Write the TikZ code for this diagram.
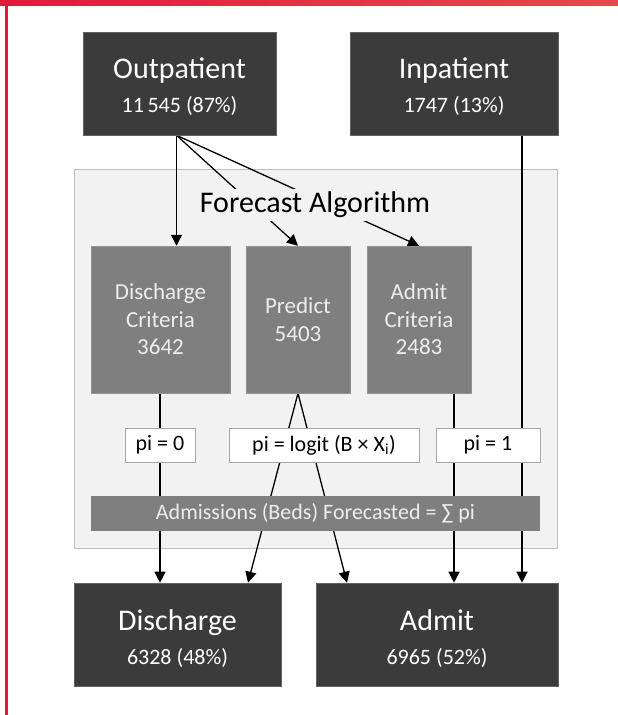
\documentclass[tikz,border=0pt]{standalone}
\usepackage{fontspec}
\setmainfont{Carlito}
\usetikzlibrary{arrows.meta}
\definecolor{darkbox}{HTML}{3B3B3B}
\definecolor{midbox}{HTML}{7F7F7F}
\definecolor{panelfill}{HTML}{F2F2F2}
\definecolor{paneldraw}{HTML}{BFBFBF}
\definecolor{whitedraw}{HTML}{A6A6A6}
\definecolor{lighttext}{HTML}{EDEDED}
\definecolor{redL}{HTML}{E01A3A}
\definecolor{redR}{HTML}{E8474F}
\pgfdeclarelayer{bg}
\pgfdeclarelayer{lines}
\pgfsetlayers{bg,lines,main}
\tikzset{
  darkrect/.style={fill=darkbox, draw=darkbox!80!white, line width=0.6pt, minimum width=#1, minimum height=103pt, inner sep=0pt},
  midrect/.style={fill=midbox, draw=midbox!85!white, line width=0.5pt, minimum width=#1, minimum height=147pt, inner sep=0pt,
     text=lighttext, align=center, font=\fontsize{23}{27.5}\selectfont},
  pibox/.style={fill=white, draw=whitedraw, line width=0.6pt, minimum width=#1, minimum height=34pt, inner sep=0pt,
     font=\fontsize{22}{26}\selectfont},
  bigtitle/.style={text=white, font=\fontsize{30}{34}\selectfont, inner sep=0pt, anchor=base},
  bignum/.style={text=white, font=\fontsize{22}{26}\selectfont, inner sep=0pt, anchor=base},
  conn/.style={line width=1.3pt, -{Triangle[width=11pt,length=11pt]}}
}
\begin{document}
\begin{tikzpicture}[x=1pt,y=-1pt]
\useasboundingbox (0,0) rectangle (618,715);
\begin{pgfonlayer}{bg}
\fill[white] (0,0) rectangle (618,715);
\end{pgfonlayer}
% red frame
\shade[left color=redL, right color=redR] (0,0) rectangle (618,5.5);
\fill[redL] (5,0) rectangle (8,715);

% top boxes
\node[darkrect=193pt] (out) at (179.5,83.5) {};
\node[bigtitle] (outT) at (179.5,78) {Outpatient};
\node[bignum] (outN) at (179.5,112) {11\,545 (87\%)};
\node[darkrect=208pt] (inp) at (454,83.5) {};
\node[bigtitle] (inpT) at (454,78) {Inpatient};
\node[bignum] (inpN) at (454,112) {1747 (13\%)};

% panel
\begin{pgfonlayer}{bg}
\node[fill=panelfill, draw=paneldraw, line width=0.8pt, minimum width=483pt, minimum height=379pt, inner sep=0pt] (panel) at (315.5,358.5) {};
\end{pgfonlayer}

% criteria boxes
\node[midrect=139pt] (dc) at (160.5,319.5) {Discharge\\Criteria\\3642};
\node[midrect=104pt] (pr) at (298,319.5) {Predict\\5403};
\node[midrect=104pt] (ac) at (419,319.5) {Admit\\Criteria\\2483};

% pi boxes
\node[pibox=70pt] (p0) at (160,445) {pi = 0};
\node[pibox=190pt] (pl) at (324,445) {pi = logit (B × X\textsubscript{i})};
\node[pibox=104pt] (p1) at (488,445) {pi = 1};

% bar
\node[fill=midbox, minimum width=449pt, minimum height=35pt, inner sep=0pt, text=lighttext,
      font=\fontsize{22}{26}\selectfont] (bar) at (315.5,513.5) {Admissions (Beds) Forecasted = ∑ pi};

% bottom boxes
\node[darkrect=207pt] (dis) at (177.5,634.5) {};
\node[bigtitle] (disT) at (177.5,630) {Discharge};
\node[bignum] (disN) at (177.5,664) {6328 (48\%)};
\node[darkrect=242pt] (adm) at (437,634.5) {};
\node[bigtitle] (admT) at (437,630) {Admit};
\node[bignum] (admN) at (437,664) {6965 (52\%)};

% connectors
\begin{pgfonlayer}{lines}
\coordinate (outS) at ([xshift=-3pt]out.south);
\draw[conn] (outS) -- (outS |- dc.north);
\draw[conn] (outS) -- (pr.north);
\draw[conn] (outS) -- (ac.north);
\coordinate (inpS) at ([xshift=68pt]inp.south);
\draw[conn] (inpS) -- (inpS |- adm.north);
\coordinate (dcS) at ([xshift=-0.5pt]dc.south);
\draw[conn] (dcS) -- (dcS |- dis.north);
\draw[conn] (pr.south) -- ([xshift=70.5pt]dis.north);
\draw[conn] (pr.south) -- ([xshift=-90pt]adm.north);
\coordinate (acS) at ([xshift=35pt]ac.south);
\draw[conn] (acS) -- (acS |- adm.north);
\end{pgfonlayer}

% forecast label covering the lines
\node[fill=panelfill, inner xsep=2pt, inner ysep=3.5pt, font=\fontsize{30}{34}\selectfont] (fa) at (315,205) {Forecast Algorithm};
\end{tikzpicture}
\end{document}
